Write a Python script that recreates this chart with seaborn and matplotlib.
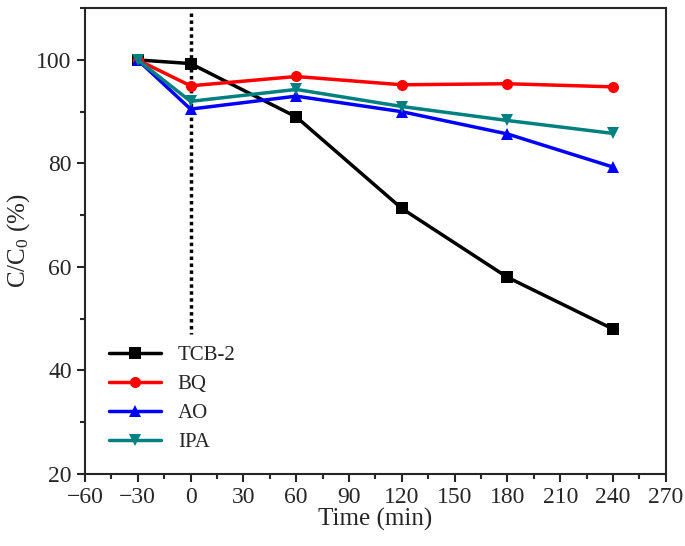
import numpy as np
import pandas as pd
import matplotlib
matplotlib.use("Agg")
import matplotlib.pyplot as plt
from matplotlib.ticker import MultipleLocator
import seaborn as sns

time_min = [-30, 0, 60, 120, 180, 240]
tcb2 = [100, 99.3, 89.0, 71.3, 58.0, 48.0]
bq = [100, 95.0, 96.8, 95.2, 95.4, 94.8]
ao = [100, 90.5, 93.0, 90.0, 85.7, 79.3]
ipa = [100, 92.0, 94.3, 91.0, 88.3, 85.8]
series_names = ["TCB-2", "BQ", "AO", "IPA"]

COLORS = {"TCB-2": "black", "BQ": "#ff0000", "AO": "#0000ff", "IPA": "#008080"}
MARKERS = {"TCB-2": "s", "BQ": "o", "AO": "^", "IPA": "v"}

df = pd.DataFrame({"Time": time_min, "TCB-2": tcb2, "BQ": bq, "AO": ao, "IPA": ipa})
long_df = df.melt(id_vars="Time", value_vars=series_names, var_name="group", value_name="C")

sns.set_theme(style="ticks")
plt.rcParams["font.family"] = ["Liberation Serif", "DejaVu Serif"]
plt.rcParams["mathtext.fontset"] = "custom"
plt.rcParams["mathtext.rm"] = "Liberation Serif"
plt.rcParams["mathtext.it"] = "Liberation Serif"

fig, ax = plt.subplots(figsize=(6.85, 5.46), dpi=100)

# dotted marker for the start of irradiation
ax.plot([0, 0], [109, 47], color="black", linestyle=(0, (1, 1)), linewidth=2.5, zorder=1)

sns.lineplot(data=long_df, x="Time", y="C", hue="group", style="group",
             hue_order=series_names, style_order=series_names,
             palette=COLORS, markers=MARKERS, dashes=False,
             linewidth=2.5, markersize=8, markeredgewidth=0, ax=ax, zorder=3)

ax.set_xlim(-60, 270)
ax.set_ylim(20, 110)
ax.xaxis.set_major_locator(MultipleLocator(30))
ax.xaxis.set_minor_locator(MultipleLocator(15))
ax.yaxis.set_major_locator(MultipleLocator(20))
ax.yaxis.set_minor_locator(MultipleLocator(10))
ax.tick_params(which="major", direction="out", length=6, width=1.5, labelsize=17)
ax.tick_params(which="minor", direction="out", length=3.5, width=1.5)
for sp in ax.spines.values():
    sp.set_linewidth(1.5)
    sp.set_visible(True)

ax.set_xlabel("Time (min)", fontsize=18, labelpad=0)
ax.set_ylabel("C/C$_0$ (%)", fontsize=18, labelpad=3)

leg = ax.legend(loc="lower left", bbox_to_anchor=(0.02, 0.02), frameon=False,
                fontsize=15, handlelength=2.5, labelspacing=0.45, borderaxespad=0.2)

fig.subplots_adjust(left=0.124, right=0.972, top=0.985, bottom=0.132)
plt.savefig("out.png", dpi=100)
plt.close()
